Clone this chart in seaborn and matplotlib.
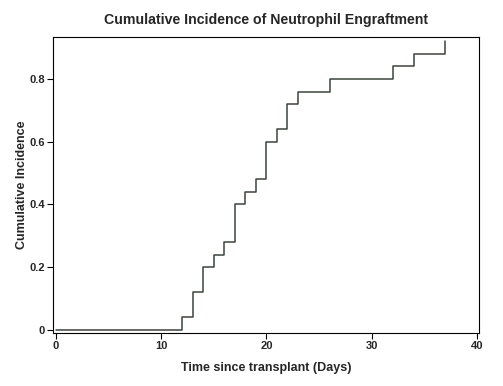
import matplotlib
matplotlib.use("Agg")
import matplotlib.pyplot as plt
import seaborn as sns
import pandas as pd

days = [0, 12, 13, 14, 15, 16, 17, 18, 19, 20, 21, 22, 23, 26, 32, 34, 37]
incidence = [0.0, 0.04, 0.12, 0.20, 0.24, 0.28, 0.40, 0.44, 0.48, 0.60,
             0.64, 0.72, 0.76, 0.80, 0.84, 0.88, 0.92]
x_ticks = [0, 10, 20, 30, 40]
y_ticks = [0, 0.2, 0.4, 0.6, 0.8]
y_tick_labels = ["0", "0.2", "0.4", "0.6", "0.8"]

sns.set_style("white")
plt.rcParams['font.family'] = ['Liberation Sans', 'DejaVu Sans']

df = pd.DataFrame({"day": days, "ci": incidence})

fig = plt.figure(figsize=(5.03, 3.86), dpi=100)
ax = fig.add_axes([0.106, 0.138, 0.846, 0.767])
sns.lineplot(data=df, x="day", y="ci", ax=ax, drawstyle="steps-post",
             color="#3c443c", linewidth=1.1, sort=False)

ax.set_xlim(-0.23, 40.17)
ax.set_ylim(-0.009, 0.935)
ax.set_xticks(x_ticks)
ax.set_yticks(y_ticks)
ax.set_yticklabels(y_tick_labels)
for lab in ax.get_xticklabels() + ax.get_yticklabels():
    lab.set_fontweight("bold")
    lab.set_fontsize(8)
ax.tick_params(axis="both", direction="out", length=4, width=0.8, color="black",
               bottom=True, left=True, pad=2)
for s in ax.spines.values():
    s.set_color("black")
    s.set_linewidth(0.8)

ax.set_xlabel("Time since transplant (Days)", fontsize=9, fontweight="bold", labelpad=8)
ax.set_ylabel("Cumulative Incidence", fontsize=9, fontweight="bold", labelpad=1)
ax.set_title("Cumulative Incidence of Neutrophil Engraftment", fontsize=10.2,
             fontweight="bold", pad=9)

fig.savefig("out.png", dpi=100)
